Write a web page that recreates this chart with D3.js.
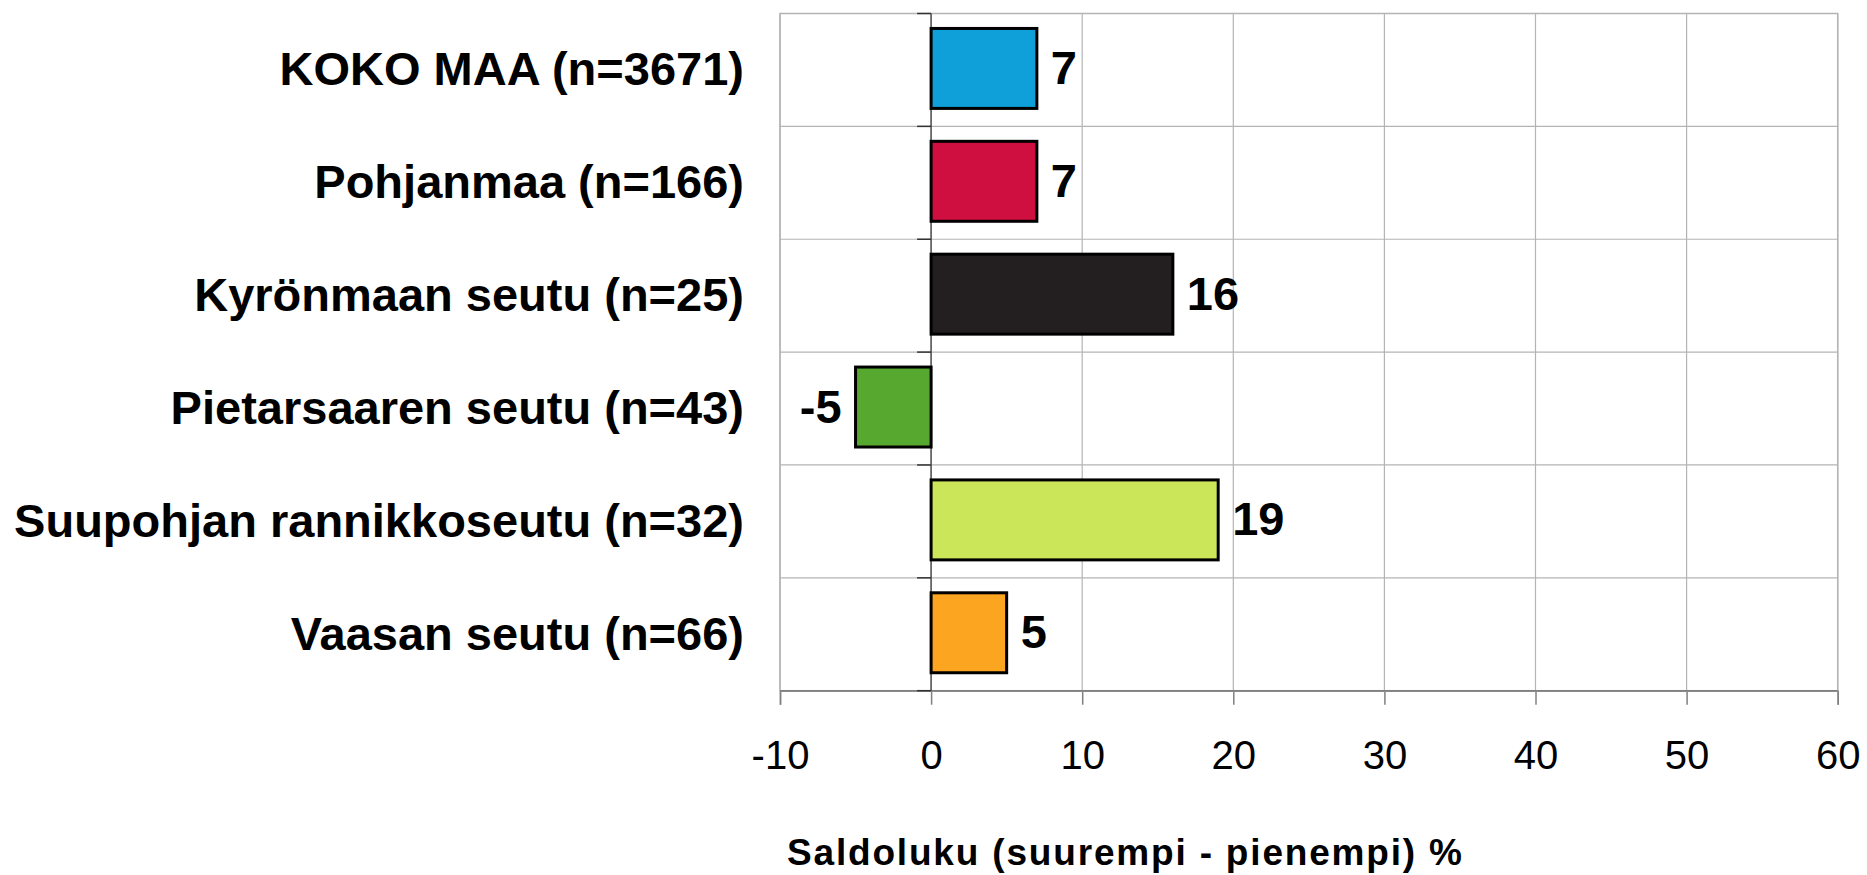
<!DOCTYPE html>
<html>
<head>
<meta charset="utf-8">
<script src="https://cdn.jsdelivr.net/npm/d3@7"></script>
<style>
  html, body { margin: 0; padding: 0; background: #fff; }
  svg { display: block; font-family: "Liberation Sans", Arial, sans-serif; }
</style>
</head>
<body>
<svg id="chart" width="1867" height="875"></svg>
<script>
const categories = [
  "KOKO MAA (n=3671)",
  "Pohjanmaa (n=166)",
  "Kyrönmaan seutu (n=25)",
  "Pietarsaaren seutu (n=43)",
  "Suupohjan rannikkoseutu (n=32)",
  "Vaasan seutu (n=66)"
];
const values = [7, 7, 16, -5, 19, 5];
const colors = ["#0FA0DA", "#CF0F3F", "#231F20", "#56A82E", "#CCE65A", "#FBA520"];
const xTicks = [-10, 0, 10, 20, 30, 40, 50, 60];
const xTitle = "Saldoluku (suurempi - pienempi) %";

(function () {
const svg = d3.select("#chart");
const pLeft = 780, pRight = 1837.7, pTop = 13.5, pBottom = 690.7;

const x = d3.scaleLinear().domain([-10, 60]).range([pLeft, pRight]);
const y = d3.scaleBand().domain(categories).range([pTop, pBottom]).padding(0);
const step = y.step();
const barH = step * 0.735;
const barOff = (step - barH) / 2 - 1.5;

// vertical gridlines
svg.append("g").selectAll("line").data(xTicks).join("line")
  .attr("x1", d => x(d)).attr("x2", d => x(d))
  .attr("y1", pTop).attr("y2", pBottom)
  .attr("stroke", "#b4b4b4").attr("stroke-width", 1.2);

// horizontal band separators
const bounds = categories.map(c => y(c)).concat([pBottom]);
svg.append("g").selectAll("line").data(bounds.slice(0, -1)).join("line")
  .attr("x1", pLeft).attr("x2", pRight)
  .attr("y1", d => d).attr("y2", d => d)
  .attr("stroke", "#b4b4b4").attr("stroke-width", 1.2);

// bottom axis
const xAxis = d3.axisBottom(x).tickValues(xTicks).tickSize(14).tickPadding(34).tickFormat(d => String(d));
const gx = svg.append("g").attr("transform", `translate(0,${pBottom})`).call(xAxis);
gx.select(".domain").attr("stroke", "#808080").attr("stroke-width", 1.5);
gx.selectAll(".tick line").attr("stroke", "#808080").attr("stroke-width", 1.5);
gx.selectAll(".tick text")
  .attr("font-size", 40).attr("fill", "#000")
  .attr("font-family", "Liberation Sans, Arial, sans-serif")
  .attr("dy", "0.75em");

// plot border
svg.append("rect")
  .attr("x", pLeft).attr("y", pTop).attr("width", pRight - pLeft).attr("height", pBottom - pTop)
  .attr("fill", "none").attr("stroke", "#b4b4b4").attr("stroke-width", 1.5);
svg.append("line").attr("x1", pLeft).attr("x2", pRight).attr("y1", pBottom).attr("y2", pBottom)
  .attr("stroke", "#808080").attr("stroke-width", 1.5);

// category axis at zero
svg.append("line")
  .attr("x1", x(0)).attr("x2", x(0)).attr("y1", pTop).attr("y2", pBottom)
  .attr("stroke", "#555").attr("stroke-width", 1.5);
svg.append("g").selectAll("line").data(bounds).join("line")
  .attr("x1", x(0) - 14).attr("x2", x(0))
  .attr("y1", d => d).attr("y2", d => d)
  .attr("stroke", "#333").attr("stroke-width", 1.5);

// bars
svg.append("g").selectAll("rect").data(values).join("rect")
  .attr("x", d => x(Math.min(0, d)))
  .attr("width", d => Math.abs(x(d) - x(0)))
  .attr("y", (d, i) => y(categories[i]) + barOff + 1.5)
  .attr("height", barH - 3)
  .attr("fill", (d, i) => colors[i])
  .attr("stroke", "#000").attr("stroke-width", 3);

// value labels
svg.append("g").selectAll("text").data(values).join("text")
  .attr("x", d => d >= 0 ? x(d) + 14 : x(d) - 14)
  .attr("y", (d, i) => y(categories[i]) + barOff + barH / 2)
  .attr("dy", "0.33em")
  .attr("text-anchor", d => d >= 0 ? "start" : "end")
  .attr("font-size", 47).attr("font-weight", "bold").attr("fill", "#000")
  .text(d => d);

// category labels
svg.append("g").selectAll("text").data(categories).join("text")
  .attr("x", 744)
  .attr("y", d => y(d) + step / 2)
  .attr("dy", "0.33em")
  .attr("text-anchor", "end")
  .attr("font-size", 47).attr("font-weight", "bold").attr("fill", "#000")
  .text(d => d);

// axis title
svg.append("text")
  .attr("x", 787).attr("y", 865)
  .attr("font-size", 37).attr("font-weight", "bold").attr("fill", "#000")
  .attr("textLength", 675).attr("lengthAdjust", "spacing")
  .text(xTitle);
})();
</script>
</body>
</html>
